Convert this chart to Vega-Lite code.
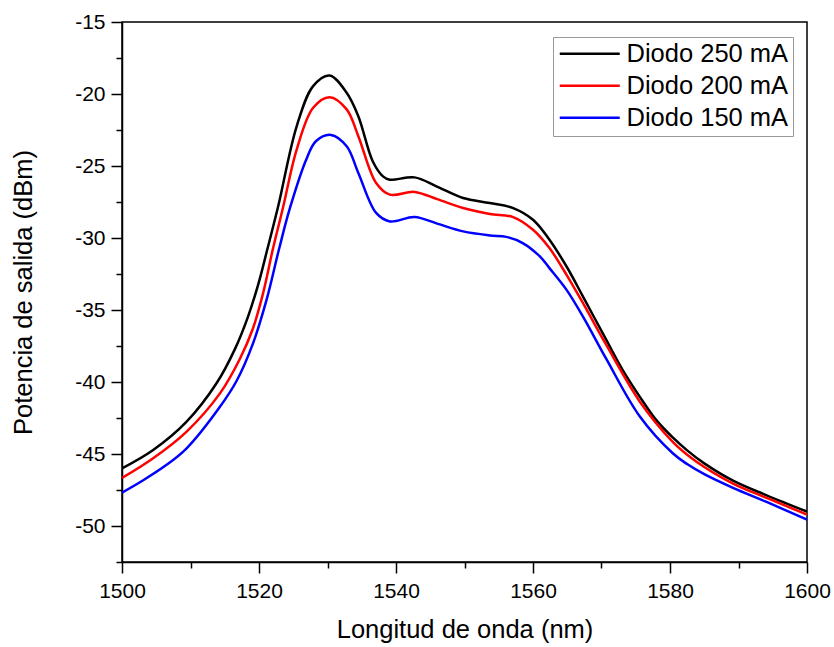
{
  "$schema": "https://vega.github.io/schema/vega-lite/v6.json",
  "autosize": "none",
  "padding": {"left": 122, "top": 22, "right": 27, "bottom": 85},
  "width": 685,
  "height": 540,
  "config": {
    "font": "Liberation Sans",
    "view": {"stroke": "black", "strokeWidth": 1.5},
    "axis": {"domainColor": "black", "domainWidth": 1.5, "tickColor": "black", "tickWidth": 1.5, "labelColor": "black", "titleColor": "black", "grid": false, "labelFont": "Liberation Sans", "titleFont": "Liberation Sans", "titleFontWeight": "normal"}
  },
  "data": {"values": [
    {"wl": 1500, "p": -46.0, "s": "Diodo 250 mA"},
    {"wl": 1504.5, "p": -44.74, "s": "Diodo 250 mA"},
    {"wl": 1509.4, "p": -42.77, "s": "Diodo 250 mA"},
    {"wl": 1513.8, "p": -40.09, "s": "Diodo 250 mA"},
    {"wl": 1516.5, "p": -37.7, "s": "Diodo 250 mA"},
    {"wl": 1518.4, "p": -35.46, "s": "Diodo 250 mA"},
    {"wl": 1519.9, "p": -33.2, "s": "Diodo 250 mA"},
    {"wl": 1521.2, "p": -30.82, "s": "Diodo 250 mA"},
    {"wl": 1522.8, "p": -27.8, "s": "Diodo 250 mA"},
    {"wl": 1525.5, "p": -22.24, "s": "Diodo 250 mA"},
    {"wl": 1527.9, "p": -19.45, "s": "Diodo 250 mA"},
    {"wl": 1530.3, "p": -18.71, "s": "Diodo 250 mA"},
    {"wl": 1532.8, "p": -19.91, "s": "Diodo 250 mA"},
    {"wl": 1534.5, "p": -21.54, "s": "Diodo 250 mA"},
    {"wl": 1536.6, "p": -24.67, "s": "Diodo 250 mA"},
    {"wl": 1538.1, "p": -25.72, "s": "Diodo 250 mA"},
    {"wl": 1539.1, "p": -25.95, "s": "Diodo 250 mA"},
    {"wl": 1542.7, "p": -25.79, "s": "Diodo 250 mA"},
    {"wl": 1545.9, "p": -26.41, "s": "Diodo 250 mA"},
    {"wl": 1549.8, "p": -27.22, "s": "Diodo 250 mA"},
    {"wl": 1553.7, "p": -27.57, "s": "Diodo 250 mA"},
    {"wl": 1557.1, "p": -27.92, "s": "Diodo 250 mA"},
    {"wl": 1560.0, "p": -28.73, "s": "Diodo 250 mA"},
    {"wl": 1562.3, "p": -30.05, "s": "Diodo 250 mA"},
    {"wl": 1564.9, "p": -31.98, "s": "Diodo 250 mA"},
    {"wl": 1567.3, "p": -34.07, "s": "Diodo 250 mA"},
    {"wl": 1570.7, "p": -37.08, "s": "Diodo 250 mA"},
    {"wl": 1573.1, "p": -39.17, "s": "Diodo 250 mA"},
    {"wl": 1575.6, "p": -41.03, "s": "Diodo 250 mA"},
    {"wl": 1578.0, "p": -42.65, "s": "Diodo 250 mA"},
    {"wl": 1580.4, "p": -43.85, "s": "Diodo 250 mA"},
    {"wl": 1582.5, "p": -44.75, "s": "Diodo 250 mA"},
    {"wl": 1585.0, "p": -45.65, "s": "Diodo 250 mA"},
    {"wl": 1589.2, "p": -46.85, "s": "Diodo 250 mA"},
    {"wl": 1594.1, "p": -47.87, "s": "Diodo 250 mA"},
    {"wl": 1600, "p": -49.0, "s": "Diodo 250 mA"},
    {"wl": 1500, "p": -46.66, "s": "Diodo 200 mA"},
    {"wl": 1504.5, "p": -45.31, "s": "Diodo 200 mA"},
    {"wl": 1509.4, "p": -43.46, "s": "Diodo 200 mA"},
    {"wl": 1514.3, "p": -40.79, "s": "Diodo 200 mA"},
    {"wl": 1517.2, "p": -38.4, "s": "Diodo 200 mA"},
    {"wl": 1519.1, "p": -36.3, "s": "Diodo 200 mA"},
    {"wl": 1520.6, "p": -33.83, "s": "Diodo 200 mA"},
    {"wl": 1522.0, "p": -30.82, "s": "Diodo 200 mA"},
    {"wl": 1523.5, "p": -27.9, "s": "Diodo 200 mA"},
    {"wl": 1525.5, "p": -23.86, "s": "Diodo 200 mA"},
    {"wl": 1527.9, "p": -20.96, "s": "Diodo 200 mA"},
    {"wl": 1530.3, "p": -20.22, "s": "Diodo 200 mA"},
    {"wl": 1532.8, "p": -21.07, "s": "Diodo 200 mA"},
    {"wl": 1534.5, "p": -22.93, "s": "Diodo 200 mA"},
    {"wl": 1537.1, "p": -26.18, "s": "Diodo 200 mA"},
    {"wl": 1539.1, "p": -26.99, "s": "Diodo 200 mA"},
    {"wl": 1542.7, "p": -26.8, "s": "Diodo 200 mA"},
    {"wl": 1546.0, "p": -27.3, "s": "Diodo 200 mA"},
    {"wl": 1549.8, "p": -27.92, "s": "Diodo 200 mA"},
    {"wl": 1553.7, "p": -28.33, "s": "Diodo 200 mA"},
    {"wl": 1557.1, "p": -28.55, "s": "Diodo 200 mA"},
    {"wl": 1560.0, "p": -29.43, "s": "Diodo 200 mA"},
    {"wl": 1562.4, "p": -30.7, "s": "Diodo 200 mA"},
    {"wl": 1564.9, "p": -32.56, "s": "Diodo 200 mA"},
    {"wl": 1567.3, "p": -34.53, "s": "Diodo 200 mA"},
    {"wl": 1570.7, "p": -37.43, "s": "Diodo 200 mA"},
    {"wl": 1575.6, "p": -41.37, "s": "Diodo 200 mA"},
    {"wl": 1580.4, "p": -44.16, "s": "Diodo 200 mA"},
    {"wl": 1582.5, "p": -45.05, "s": "Diodo 200 mA"},
    {"wl": 1585.0, "p": -45.9, "s": "Diodo 200 mA"},
    {"wl": 1589.2, "p": -47.05, "s": "Diodo 200 mA"},
    {"wl": 1594.1, "p": -48.05, "s": "Diodo 200 mA"},
    {"wl": 1600, "p": -49.2, "s": "Diodo 200 mA"},
    {"wl": 1500, "p": -47.68, "s": "Diodo 150 mA"},
    {"wl": 1503.1, "p": -46.82, "s": "Diodo 150 mA"},
    {"wl": 1506.3, "p": -45.82, "s": "Diodo 150 mA"},
    {"wl": 1509.4, "p": -44.62, "s": "Diodo 150 mA"},
    {"wl": 1514.3, "p": -41.72, "s": "Diodo 150 mA"},
    {"wl": 1516.7, "p": -39.95, "s": "Diodo 150 mA"},
    {"wl": 1519.1, "p": -37.35, "s": "Diodo 150 mA"},
    {"wl": 1521.1, "p": -34.3, "s": "Diodo 150 mA"},
    {"wl": 1522.9, "p": -30.82, "s": "Diodo 150 mA"},
    {"wl": 1524.5, "p": -27.95, "s": "Diodo 150 mA"},
    {"wl": 1526.9, "p": -24.55, "s": "Diodo 150 mA"},
    {"wl": 1528.3, "p": -23.28, "s": "Diodo 150 mA"},
    {"wl": 1530.5, "p": -22.84, "s": "Diodo 150 mA"},
    {"wl": 1532.8, "p": -23.63, "s": "Diodo 150 mA"},
    {"wl": 1534.5, "p": -25.48, "s": "Diodo 150 mA"},
    {"wl": 1537.1, "p": -28.26, "s": "Diodo 150 mA"},
    {"wl": 1539.1, "p": -28.85, "s": "Diodo 150 mA"},
    {"wl": 1542.7, "p": -28.54, "s": "Diodo 150 mA"},
    {"wl": 1546.0, "p": -29.0, "s": "Diodo 150 mA"},
    {"wl": 1549.8, "p": -29.54, "s": "Diodo 150 mA"},
    {"wl": 1553.7, "p": -29.82, "s": "Diodo 150 mA"},
    {"wl": 1556.1, "p": -29.92, "s": "Diodo 150 mA"},
    {"wl": 1558.5, "p": -30.35, "s": "Diodo 150 mA"},
    {"wl": 1561.0, "p": -31.28, "s": "Diodo 150 mA"},
    {"wl": 1562.4, "p": -32.09, "s": "Diodo 150 mA"},
    {"wl": 1564.9, "p": -33.6, "s": "Diodo 150 mA"},
    {"wl": 1567.3, "p": -35.46, "s": "Diodo 150 mA"},
    {"wl": 1570.7, "p": -38.4, "s": "Diodo 150 mA"},
    {"wl": 1575.6, "p": -42.4, "s": "Diodo 150 mA"},
    {"wl": 1580.4, "p": -44.95, "s": "Diodo 150 mA"},
    {"wl": 1582.5, "p": -45.7, "s": "Diodo 150 mA"},
    {"wl": 1585.0, "p": -46.4, "s": "Diodo 150 mA"},
    {"wl": 1589.2, "p": -47.35, "s": "Diodo 150 mA"},
    {"wl": 1594.1, "p": -48.33, "s": "Diodo 150 mA"},
    {"wl": 1600, "p": -49.56, "s": "Diodo 150 mA"}
  ]},
  "mark": {"type": "line", "interpolate": "catmull-rom", "strokeWidth": 2.5, "clip": true},
  "encoding": {
    "x": {
      "field": "wl", "type": "quantitative",
      "scale": {"domain": [1500, 1600], "nice": false, "zero": false},
      "axis": {
        "title": "Longitud de onda (nm)",
        "values": [1500, 1510, 1520, 1530, 1540, 1550, 1560, 1570, 1580, 1590, 1600],
        "labelExpr": "datum.value % 20 === 0 ? '' + datum.value : ''",
        "tickSize": {"condition": {"test": "datum.value % 20 === 0", "value": 11}, "value": 6},
        "labelFontSize": 21, "labelPadding": 7, "labelFlush": false,
        "titleFontSize": 25.5, "titlePadding": 16
      }
    },
    "y": {
      "field": "p", "type": "quantitative",
      "scale": {"domain": [-52.5, -15], "nice": false, "zero": false},
      "axis": {
        "title": "Potencia de salida (dBm)",
        "values": [-52.5, -50, -47.5, -45, -42.5, -40, -37.5, -35, -32.5, -30, -27.5, -25, -22.5, -20, -17.5, -15],
        "labelExpr": "datum.value % 5 === 0 ? '' + datum.value : ''",
        "tickSize": {"condition": {"test": "datum.value % 5 === 0", "value": 11}, "value": 6},
        "labelFontSize": 21, "labelPadding": 6, "labelFlush": false,
        "titleFontSize": 25.5, "titlePadding": 38
      }
    },
    "color": {
      "field": "s", "type": "nominal",
      "scale": {"domain": ["Diodo 250 mA", "Diodo 200 mA", "Diodo 150 mA"], "range": ["#000000", "#ff0000", "#0000ff"]},
      "legend": {
        "title": null,
        "orient": "none", "legendX": 431, "legendY": 15,
        "symbolType": "M-4,0H4", "symbolSize": 225, "symbolStrokeWidth": 2.5, "symbolOffset": 20,
        "labelFontSize": 25.5, "labelColor": "black", "labelOffset": 24, "labelLimit": 300,
        "rowPadding": 5, "padding": 4,
        "strokeColor": "#999999", "fillColor": "white"
      }
    }
  }
}
